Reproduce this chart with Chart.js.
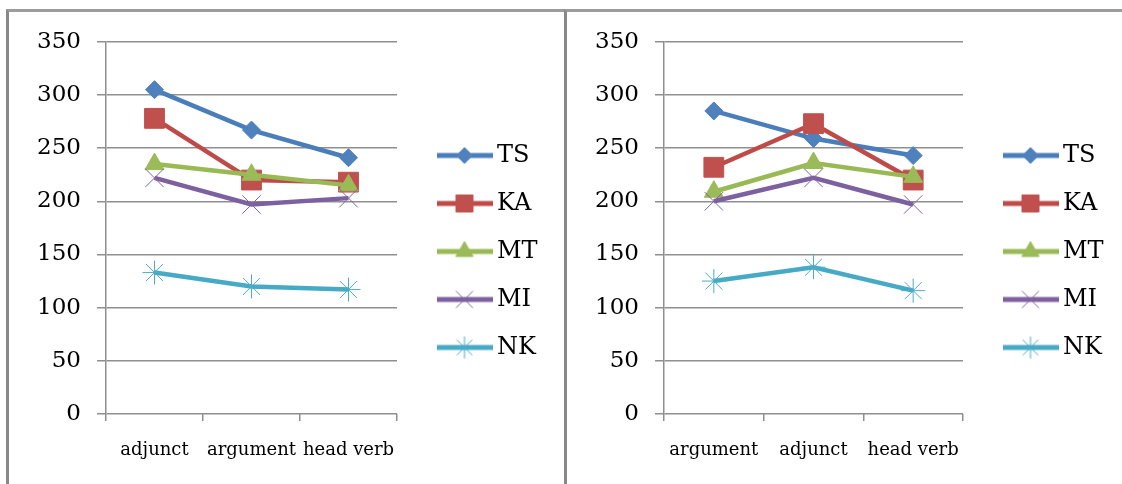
<!DOCTYPE html>
<html>
<head>
<meta charset="utf-8">
<script src="https://cdn.jsdelivr.net/npm/chart.js@4/dist/chart.umd.min.js"></script>
<style>
  html, body { margin: 0; padding: 0; background: #fff; }
  body { width: 1122px; height: 484px; position: relative; overflow: hidden; }
  .frame { position: absolute; top: 9px; height: 480px; border-top: 3px solid #9c9c9c; border-left: 3px solid #888; box-sizing: border-box; }
  canvas { position: absolute; top: 12px; }
</style>
</head>
<body>
<div class="frame" style="left:6px; width:558px;"></div>
<div class="frame" style="left:564px; width:560px;"></div>
<canvas id="left" width="555" height="472" style="left:9px;"></canvas>
<canvas id="right" width="555" height="472" style="left:567px;"></canvas>
<script>
// Category labels for each panel
const categoriesLeft = ['adjunct', 'argument', 'head verb'];
const categoriesRight = ['argument', 'adjunct', 'head verb'];

// Speakers
const seriesNames = ['TS', 'KA', 'MT', 'MI', 'NK'];

// Values, panel 1 (adjunct / argument / head verb)
const tsLeft = [305, 267, 241];
const kaLeft = [278, 220, 218];
const mtLeft = [235, 225, 215];
const miLeft = [222, 197, 203];
const nkLeft = [133, 120, 117];

// Values, panel 2 (argument / adjunct / head verb)
const tsRight = [285, 259, 243];
const kaRight = [232, 273, 220];
const mtRight = [209, 236, 223];
const miRight = [200, 222, 197];
const nkRight = [125, 138, 116];

// Value axis ticks
const yTickValues = [0, 50, 100, 150, 200, 250, 300, 350];

// Per-series look
const seriesStyle = [
  { line: '#4A7EBB', fill: '#4F81BD', point: 'rectRot',  radius: 9,  border: 1 },
  { line: '#BE4B48', fill: '#C0504D', point: 'rect',     radius: 14, border: 1 },
  { line: '#98B954', fill: '#9BBB59', point: 'triangle', radius: 11, border: 1 },
  { line: '#7D60A0', fill: '#8064A2', point: 'crossRot', radius: 13, border: 1 },
  { line: '#46AAC5', fill: '#4BACC6', point: 'star',     radius: 12, border: 1 }
];

const GRID = '#8f8f8f';
const SERIF = "'DejaVu Serif', 'Liberation Serif', serif";
const LEGEND_GAP = 23;

// Legend swatch: a short line with the series marker in the middle
function legendSwatch(st) {
  const c = document.createElement('canvas');
  c.width = 56; c.height = 28;
  const ctx = c.getContext('2d');
  ctx.strokeStyle = st.line;
  ctx.lineWidth = 5;
  ctx.beginPath(); ctx.moveTo(0, 14); ctx.lineTo(56, 14); ctx.stroke();
  ctx.fillStyle = st.fill;
  ctx.strokeStyle = st.fill;
  ctx.lineWidth = st.border;
  const r = st.point === 'rect' ? 12 : (st.point === 'rectRot' ? 8 : st.radius - 1);
  Chart.helpers.drawPoint(ctx, { pointStyle: st.point, radius: r, borderWidth: st.border, rotation: 0 }, 28, 14);
  return c;
}
const swatches = seriesStyle.map(legendSwatch);

function buildChart(id, categories, values, plotRight) {
  const datasets = values.map((vals, i) => ({
    label: seriesNames[i],
    data: vals,
    yAxisID: 'y',
    xAxisID: 'x',
    order: values.length - i,
    borderColor: seriesStyle[i].line,
    backgroundColor: seriesStyle[i].fill,
    borderWidth: 4.5,
    tension: 0,
    pointStyle: seriesStyle[i].point,
    pointRadius: seriesStyle[i].radius,
    pointHoverRadius: seriesStyle[i].radius,
    pointBackgroundColor: seriesStyle[i].fill,
    pointBorderColor: seriesStyle[i].fill,
    pointBorderWidth: seriesStyle[i].border
  }));

  const canvas = document.getElementById(id);
  const chart = new Chart(canvas, {
    type: 'line',
    data: { labels: categories, datasets },
    options: {
      responsive: false,
      animation: false,
      devicePixelRatio: 1,
      layout: { padding: { top: 27, left: 0, right: 0, bottom: 20 } },
      scales: {
        x: {
          type: 'category',
          offset: true,
          grid: { display: true, drawOnChartArea: false, drawTicks: true, tickLength: 7, offset: true, color: GRID, lineWidth: 1.5 },
          border: { display: false },
          ticks: { color: '#000', font: { family: SERIF, size: 18 }, padding: 19, maxRotation: 0, autoSkip: false },
          afterFit: s => { s.height = 50; }
        },
        y: {
          type: 'linear',
          position: 'left',
          min: 0,
          max: 350,
          afterBuildTicks: s => { s.ticks = yTickValues.map(v => ({ value: v })); },
          grid: { color: GRID, lineWidth: 1.5, tickLength: 9 },
          border: { display: true, color: GRID, width: 1.5 },
          ticks: { color: '#000', font: { family: SERIF, size: 23 }, padding: 16 },
          afterFit: s => { s.width = 97; }
        },
        gap: {
          type: 'linear',
          position: 'right',
          display: true,
          grid: { display: false },
          border: { display: false },
          ticks: { display: false },
          afterFit: s => { s.width = LEGEND_GAP; }
        }
      },
      plugins: {
        tooltip: { enabled: false },
        legend: {
          position: 'right',
          align: 'center',
          maxWidth: 300,
          labels: {
            usePointStyle: true,
            pointStyleWidth: 41,
            padding: 24,
            color: '#000',
            font: { family: SERIF, size: 24 },
            sort: (a, b) => a.datasetIndex - b.datasetIndex,
            generateLabels: ch => {
              const items = Chart.defaults.plugins.legend.labels.generateLabels(ch);
              items.forEach(it => { it.pointStyle = swatches[it.datasetIndex]; });
              return items;
            }
          }
        }
      }
    }
  });

  // Put the plot's right edge where wanted by padding out the space after the legend
  const pad = canvas.width - plotRight - LEGEND_GAP - chart.legend.width;
  chart.options.layout.padding.right = Math.max(0, pad);
  chart.update();
  return chart;
}

buildChart('left', categoriesLeft, [tsLeft, kaLeft, mtLeft, miLeft, nkLeft], 388);
buildChart('right', categoriesRight, [tsRight, kaRight, mtRight, miRight, nkRight], 396);
</script>
</body>
</html>
